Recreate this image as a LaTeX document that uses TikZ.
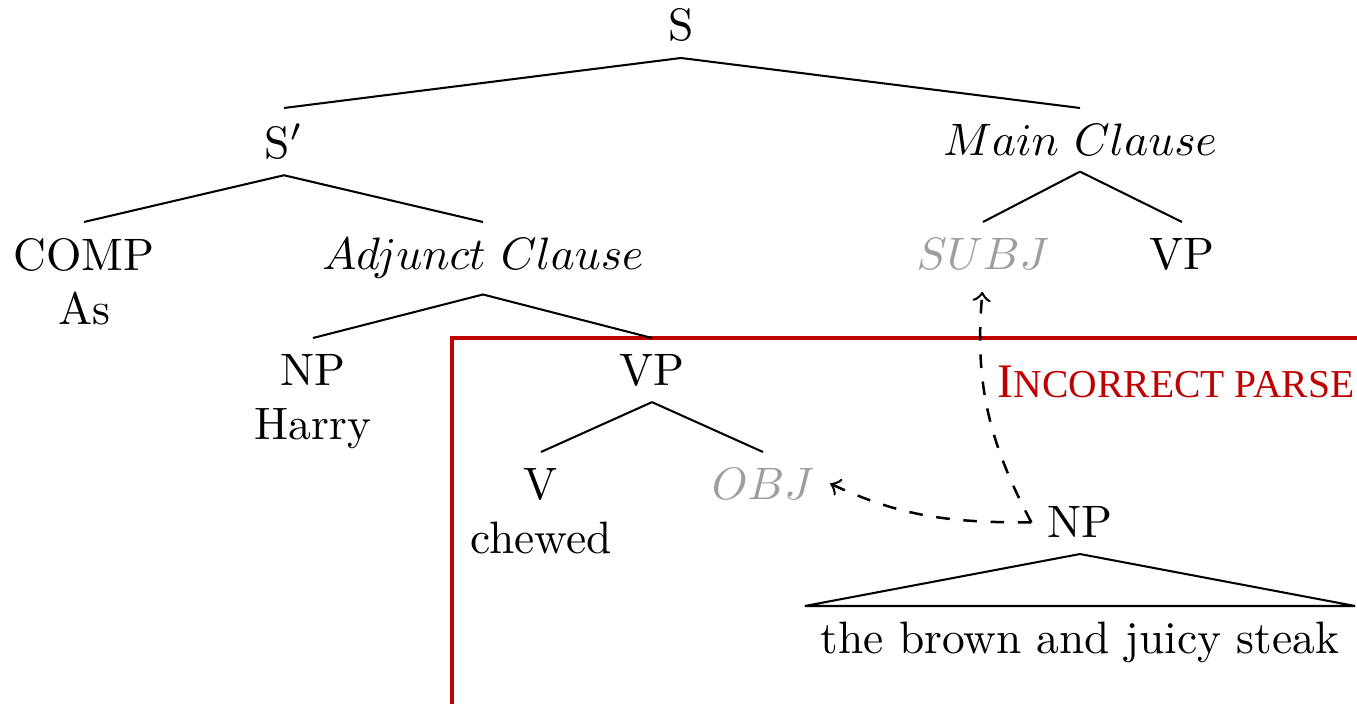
\documentclass[tikz,border=0pt]{standalone}
\usepackage{fontspec}
\newfontfamily\labfont{Liberation Serif}
\definecolor{parsered}{RGB}{192,0,0}
\newcommand{\bigsc}[1]{{\fontsize{10.6}{12}\selectfont #1}}
\newcommand{\smsc}[1]{{\fontsize{8.7}{12}\selectfont #1}}
\begin{document}
\begin{tikzpicture}[x=0.22pt,y=-0.22pt,
  edge/.style={draw=black, line width=0.45pt},
  lbl/.style={inner sep=3.33pt, align=center},
  gap/.style={text=black!38},
  move/.style={draw=black, dashed, line width=0.55pt, ->}]
\useasboundingbox (0,0) rectangle (1357,704);
\clip (0,0) rectangle (1357,704);
% red frame
\draw[parsered, line width=0.7pt] (452,900) -- (452,338) -- (1500,338);
\node[anchor=base west, text=parsered, inner sep=0pt, font=\labfont] (lab) at (997,398) {\bigsc{I}\smsc{NCORRECT PARSE}};
% tree nodes
\node[lbl,anchor=south] (S) at (681,58) {S};
\node[lbl,anchor=north] (Sp) at (284,108) {S$'$};
\node[lbl,anchor=north] (MC) at (1080,108) {$Main\ Clause$};
\node[lbl,anchor=north] (COMP) at (84,222) {COMP\\As};
\node[lbl,anchor=north] (AC) at (483,222) {$Adjunct\ Clause$};
\node[lbl,anchor=north,gap] (SUBJ) at (983,222) {$SUBJ$};
\node[lbl,anchor=north] (VPm) at (1182,222) {VP};
\node[lbl,anchor=north] (NPh) at (313,338) {NP\\Harry};
\node[lbl,anchor=north] (VP) at (652,338) {VP};
\node[lbl,anchor=north] (V) at (541,452) {V\\chewed};
\node[lbl,anchor=north,gap] (OBJ) at (763,452) {$OBJ$};
\node[lbl,anchor=base] (NP) at (1080,538) {NP};
\node[lbl,anchor=north] (leaf) at (1080,606) {the brown and juicy steak};
% edges
\draw[edge] (S.south) -- (Sp.north);
\draw[edge] (S.south) -- (MC.north);
\draw[edge] (Sp.south) -- (COMP.north);
\draw[edge] (Sp.south) -- (AC.north);
\draw[edge] (MC.south) -- (SUBJ.north);
\draw[edge] (MC.south) -- (VPm.north);
\draw[edge] (AC.south) -- (NPh.north);
\draw[edge] (AC.south) -- (VP.north);
\draw[edge] (VP.south) -- (V.north);
\draw[edge] (VP.south) -- (OBJ.north);
\draw[edge] (NP.south) -- (leaf.north west) -- (leaf.north east) -- cycle;
% movement arrows
\draw[move, shorten >=1.5pt] (NP.west) to[out=118,in=-95] (SUBJ.south);
\draw[move] (NP.west) to[out=180,in=-25] (OBJ.east);
\end{tikzpicture}
\end{document}
